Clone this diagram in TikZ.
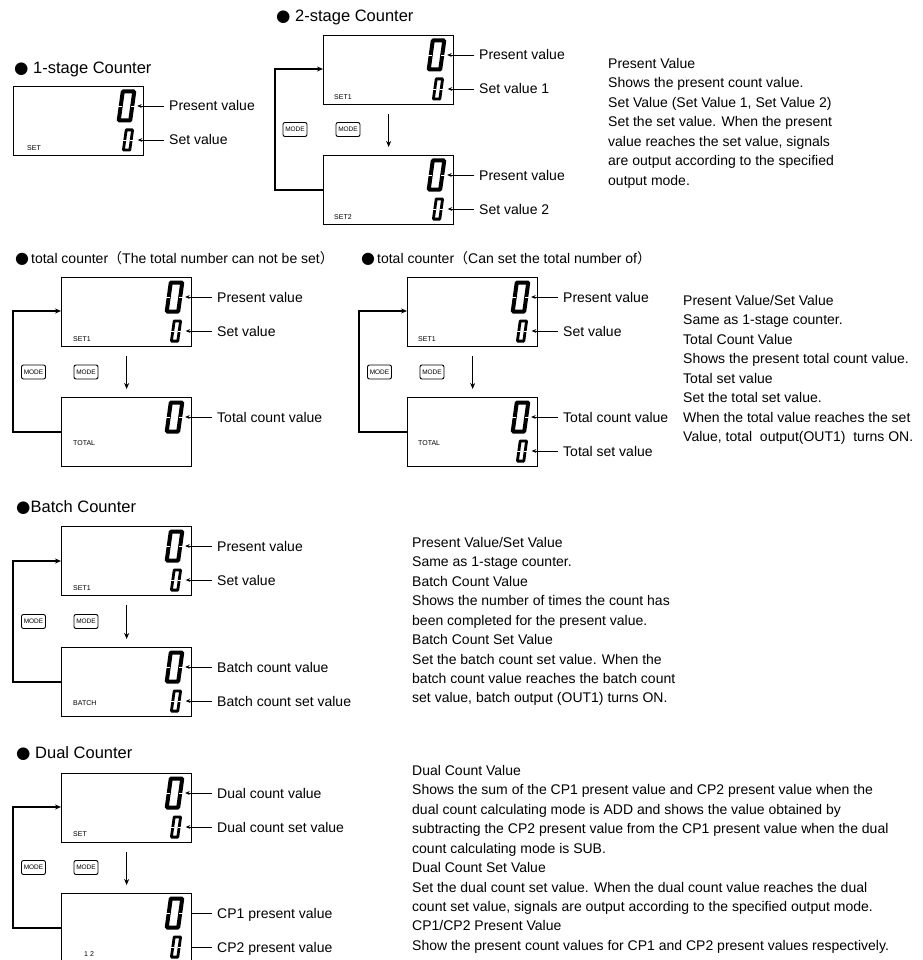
\documentclass[tikz,border=0pt]{standalone}
\usepackage{fontspec}
\setmainfont{Liberation Sans}
\newfontfamily\cjk{Noto Sans CJK SC}
\newfontfamily\dingfont{DejaVu Sans}
\usetikzlibrary{arrows.meta, positioning, calc}

% seven-segment "0", leaning right: half width, half height, stroke
\newcommand\lcdzero[3]{%
  \begin{scope}[shift={(path picture bounding box.center)}]
    \draw[line width=#3pt, line join=bevel]
      (-#1+0.14*#2,-#2) -- (#1+0.14*#2,-#2) -- (#1-0.14*#2,#2) -- (-#1-0.14*#2,#2) -- cycle;
    \draw[white, line width=0.7pt] (-#1-#3,0) -- (-#1+0.3*#3,0) (#1-0.3*#3,0) -- (#1+#3,0);
  \end{scope}}

\begin{document}
\begin{tikzpicture}[
    x=1pt, y=-1pt,
    lcd/.style={
        rectangle, draw, line width=1.3pt, anchor=north west,
        minimum width=130pt, minimum height=69pt, inner sep=0pt
    },
    bigdig/.style={
        minimum width=21pt, minimum height=36pt, inner sep=0pt,
        path picture={\lcdzero{5.75}{14.5}{4}}
    },
    smalldig/.style={
        minimum width=19pt, minimum height=26pt, inner sep=0pt,
        path picture={\lcdzero{3.2}{10.1}{2.8}}
    },
    vlbl/.style={
        anchor=west, inner xsep=5pt, inner ysep=0pt,
        text height=10pt, text depth=0pt, font=\fontsize{14}{17}\selectfont
    },
    lcdtxt/.style={anchor=west, inner sep=0pt, font=\fontsize{7}{8}\selectfont},
    modekey/.style={
        draw, rounded corners=2pt, line width=0.9pt, inner sep=0pt,
        minimum width=24pt, minimum height=14pt, font=\fontsize{6.5}{7}\selectfont
    },
    hdr/.style={anchor=west, inner sep=0pt, text height=11.8pt, text depth=0pt,
        font=\fontsize{16.5}{19}\selectfont},
    subhdr/.style={anchor=west, inner sep=0pt, text height=10pt, text depth=0pt,
        font=\fontsize{14}{16}\selectfont},
    note/.style={anchor=north west, inner sep=0pt, align=left,
        font=\fontsize{14}{19.45}\selectfont},
    lead/.style={line width=0.9pt, -{Stealth[length=4.5pt, width=3.8pt]}},
    nextarr/.style={line width=1.6pt, -{Stealth[length=6pt, width=5pt]}},
    loopback/.style={line width=1.8pt, -{Stealth[length=6pt, width=5pt]}}
]
\useasboundingbox (0,0) rectangle (922,960);

% 1-stage
\node[hdr] (hA) at (14,68) {{\dingfont ●} 1-stage Counter};
\node[lcd] (a1) at (13,86) {};
\node[bigdig]   (a1p) at (126.5,106) {};
\node[smalldig] (a1s) at (128,140) {};
\node[lcdtxt] (a1t) at (27,148) {SET};
\node[vlbl] (a1pl) at (164,106) {Present value};
\node[vlbl] (a1sl) at (164,140) {Set value};
\draw[lead] (a1pl.west) -- (a1pl.west -| a1p.east);
\draw[lead] (a1sl.west) -- (a1sl.west -| a1s.east);

% 2-stage
\node[hdr] (hB) at (276,16) {{\dingfont ●} 2-stage Counter};
\node[lcd] (b1) at (323,35) {};
\node[lcd] (b2) at (323,155) {};
\node[bigdig]   (b1p) at (436.5,55) {};
\node[smalldig] (b1s) at (438,89) {};
\node[bigdig]   (b2p) at (436.5,175) {};
\node[smalldig] (b2s) at (438,209) {};
\node[lcdtxt] (b1t) at (334,97) {SET1};
\node[lcdtxt] (b2t) at (334,217) {SET2};
\node[vlbl] (b1pl) at (474,55) {Present value};
\node[vlbl] (b1sl) at (474,89) {Set value 1};
\node[vlbl] (b2pl) at (474,175) {Present value};
\node[vlbl] (b2sl) at (474,209) {Set value 2};
\node[modekey] (bm1) at (295,129.5) {MODE};
\node[modekey] (bm2) at (348,129.5) {MODE};
\draw[lead] (b1pl.west) -- (b1pl.west -| b1p.east);
\draw[lead] (b1sl.west) -- (b1sl.west -| b1s.east);
\draw[lead] (b2pl.west) -- (b2pl.west -| b2p.east);
\draw[lead] (b2sl.west) -- (b2sl.west -| b2s.east);
\draw[nextarr] ([yshift=-9pt]b1.south) -- ([yshift=8pt]b2.north);
\draw[loopback] ([yshift=-35pt]b2.north west) -- ++(-48,0) |- ([yshift=-34pt]b1.north west);
\node[note] (pB) at (608,58) {Present Value\\
    Shows the present count value.\\
    Set Value (Set Value 1, Set Value 2)\\
    Set the set value. When the present\\
    value reaches the set value, signals\\
    are output according to the specified\\
    output mode.};

% total counter, total not settable
\node[subhdr] (hC) at (15,258) {{\dingfont\fontsize{16}{16}\selectfont ●}\hspace{2pt}total counter{\cjk （}The total number can not be set{\cjk ）}};
\node[lcd] (c1) at (61,277) {};
\node[lcd] (c2) at (61,397) {};
\node[bigdig]   (c1p) at (174.5,297) {};
\node[smalldig] (c1s) at (176,331) {};
\node[bigdig]   (c2p) at (174.5,417) {};
\node[lcdtxt] (c1t) at (73,339) {SET1};
\node[lcdtxt] (c2t) at (73,443) {TOTAL};
\node[vlbl] (c1pl) at (212,297) {Present value};
\node[vlbl] (c1sl) at (212,331) {Set value};
\node[vlbl] (c2pl) at (212,417) {Total count value};
\node[modekey] (cm1) at (33.5,372) {MODE};
\node[modekey] (cm2) at (86,372) {MODE};
\draw[lead] (c1pl.west) -- (c1pl.west -| c1p.east);
\draw[lead] (c1sl.west) -- (c1sl.west -| c1s.east);
\draw[lead] (c2pl.west) -- (c2pl.west -| c2p.east);
\draw[nextarr] ([yshift=-9pt]c1.south) -- ([yshift=8pt]c2.north);
\draw[loopback] ([yshift=-35pt]c2.north west) -- ++(-48,0) |- ([yshift=-34pt]c1.north west);

% total counter, total settable
\node[subhdr] (hD) at (361,258) {{\dingfont\fontsize{16}{16}\selectfont ●}\hspace{2pt}total counter{\cjk （}Can set the total number of{\cjk ）}};
\node[lcd] (d1) at (407,277) {};
\node[lcd] (d2) at (407,397) {};
\node[bigdig]   (d1p) at (520.5,297) {};
\node[smalldig] (d1s) at (522,331) {};
\node[bigdig]   (d2p) at (520.5,417) {};
\node[smalldig] (d2s) at (522,451) {};
\node[lcdtxt] (d1t) at (418,339) {SET1};
\node[lcdtxt] (d2t) at (418,443) {TOTAL};
\node[vlbl] (d1pl) at (558,297) {Present value};
\node[vlbl] (d1sl) at (558,331) {Set value};
\node[vlbl] (d2pl) at (558,417) {Total count value};
\node[vlbl] (d2sl) at (558,451) {Total set value};
\node[modekey] (dm1) at (379.5,372) {MODE};
\node[modekey] (dm2) at (432,372) {MODE};
\draw[lead] (d1pl.west) -- (d1pl.west -| d1p.east);
\draw[lead] (d1sl.west) -- (d1sl.west -| d1s.east);
\draw[lead] (d2pl.west) -- (d2pl.west -| d2p.east);
\draw[lead] (d2sl.west) -- (d2sl.west -| d2s.east);
\draw[nextarr] ([yshift=-9pt]d1.south) -- ([yshift=8pt]d2.north);
\draw[loopback] ([yshift=-35pt]d2.north west) -- ++(-48,0) |- ([yshift=-34pt]d1.north west);
\node[note] (pD) at (683,295) {Present Value/Set Value\\
    Same as 1-stage counter.\\
    Total Count Value\\
    Shows the present total count value.\\
    Total set value\\
    Set the total set value.\\
    When the total value reaches the set\\
    Value, total\ \ output(OUT1)\ \ turns ON.};

% batch
\node[hdr] (hE) at (16,507) {{\dingfont ●}Batch Counter};
\node[lcd] (e1) at (61,526) {};
\node[lcd] (e2) at (61,647) {};
\node[bigdig]   (e1p) at (174.5,546) {};
\node[smalldig] (e1s) at (176,580) {};
\node[bigdig]   (e2p) at (174.5,667) {};
\node[smalldig] (e2s) at (176,701) {};
\node[lcdtxt] (e1t) at (73,588) {SET1};
\node[lcdtxt] (e2t) at (73,703) {BATCH};
\node[vlbl] (e1pl) at (212,546) {Present value};
\node[vlbl] (e1sl) at (212,580) {Set value};
\node[vlbl] (e2pl) at (212,667) {Batch count value};
\node[vlbl] (e2sl) at (212,701) {Batch count set value};
\node[modekey] (em1) at (33.5,621.5) {MODE};
\node[modekey] (em2) at (86,621.5) {MODE};
\draw[lead] (e1pl.west) -- (e1pl.west -| e1p.east);
\draw[lead] (e1sl.west) -- (e1sl.west -| e1s.east);
\draw[lead] (e2pl.west) -- (e2pl.west -| e2p.east);
\draw[lead] (e2sl.west) -- (e2sl.west -| e2s.east);
\draw[nextarr] ([yshift=-9pt]e1.south) -- ([yshift=8pt]e2.north);
\draw[loopback] ([yshift=-35pt]e2.north west) -- ++(-48,0) |- ([yshift=-35pt]e1.north west);
\node[note] (pE) at (412,537) {Present Value/Set Value\\
    Same as 1-stage counter.\\
    Batch Count Value\\
    Shows the number of times the count has\\
    been completed for the present value.\\
    Batch Count Set Value\\
    Set the batch count set value. When the\\
    batch count value reaches the batch count\\
    set value, batch output (OUT1) turns ON.};

% dual
\node[hdr] (hF) at (16,753) {{\dingfont ●} Dual Counter};
\node[lcd] (f1) at (61,773) {};
\node[lcd] (f2) at (61,893) {};
\node[bigdig]   (f1p) at (174.5,793) {};
\node[smalldig] (f1s) at (176,827) {};
\node[bigdig]   (f2p) at (174.5,913) {};
\node[smalldig] (f2s) at (176,947) {};
\node[lcdtxt] (f1t) at (73,834) {SET};
\node[lcdtxt] (f2t) at (84,954) {1\hspace{2pt}2};
\node[vlbl] (f1pl) at (212,793) {Dual count value};
\node[vlbl] (f1sl) at (212,827) {Dual count set value};
\node[vlbl] (f2pl) at (212,913) {CP1 present value};
\node[vlbl] (f2sl) at (212,947) {CP2 present value};
\node[modekey] (fm1) at (33.5,867.5) {MODE};
\node[modekey] (fm2) at (86,867.5) {MODE};
\draw[lead] (f1pl.west) -- (f1pl.west -| f1p.east);
\draw[lead] (f1sl.west) -- (f1sl.west -| f1s.east);
\draw[line width=0.9pt] (f2pl.west) -- (f2pl.west -| f2.east);
\draw[line width=0.9pt] (f2sl.west) -- (f2sl.west -| f2.east);
\draw[nextarr] ([yshift=-9pt]f1.south) -- ([yshift=8pt]f2.north);
\draw[loopback] ([yshift=-35pt]f2.north west) -- ++(-48,0) |- ([yshift=-34pt]f1.north west);
\node[note] (pF) at (412,765) {Dual Count Value\\
    Shows the sum of the CP1 present value and CP2 present value when the\\
    dual count calculating mode is ADD and shows the value obtained by\\
    subtracting the CP2 present value from the CP1 present value when the dual\\
    count calculating mode is SUB.\\
    Dual Count Set Value\\
    Set the dual count set value. When the dual count value reaches the dual\\
    count set value, signals are output according to the specified output mode.\\
    CP1/CP2 Present Value\\
    Show the present count values for CP1 and CP2 present values respectively.};

\end{tikzpicture}
\end{document}
